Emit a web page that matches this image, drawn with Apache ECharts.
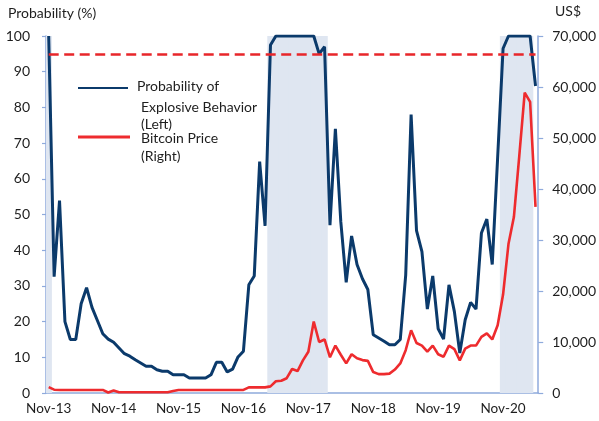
<!DOCTYPE html>
<html><head><meta charset="utf-8">
<script src="https://cdn.jsdelivr.net/npm/echarts@6/dist/echarts.min.js"></script>
<style>html,body{margin:0;padding:0;background:#fff}#c{width:599px;height:421px}</style>
</head><body><div id="c"></div>
<script>
// Categories: monthly, Nov-13 .. May-21
const months = [
 'Nov-13','Dec-13',
 'Jan-14','Feb-14','Mar-14','Apr-14','May-14','Jun-14','Jul-14','Aug-14','Sep-14','Oct-14','Nov-14','Dec-14',
 'Jan-15','Feb-15','Mar-15','Apr-15','May-15','Jun-15','Jul-15','Aug-15','Sep-15','Oct-15','Nov-15','Dec-15',
 'Jan-16','Feb-16','Mar-16','Apr-16','May-16','Jun-16','Jul-16','Aug-16','Sep-16','Oct-16','Nov-16','Dec-16',
 'Jan-17','Feb-17','Mar-17','Apr-17','May-17','Jun-17','Jul-17','Aug-17','Sep-17','Oct-17','Nov-17','Dec-17',
 'Jan-18','Feb-18','Mar-18','Apr-18','May-18','Jun-18','Jul-18','Aug-18','Sep-18','Oct-18','Nov-18','Dec-18',
 'Jan-19','Feb-19','Mar-19','Apr-19','May-19','Jun-19','Jul-19','Aug-19','Sep-19','Oct-19','Nov-19','Dec-19',
 'Jan-20','Feb-20','Mar-20','Apr-20','May-20','Jun-20','Jul-20','Aug-20','Sep-20','Oct-20','Nov-20','Dec-20',
 'Jan-21','Feb-21','Mar-21','Apr-21','May-21'
];

// Probability of explosive behavior (%, left axis)
const probability = [
 100, 32.6,
 53.9, 20, 15, 15, 25, 29.5, 24, 20.3, 16.6, 15.1, 14.2, 12.6,
 11, 10.3, 9.3, 8.4, 7.5, 7.5, 6.5, 6.1, 6.1, 5.1, 5.1, 5.1,
 4.2, 4.2, 4.2, 4.2, 5.1, 8.6, 8.6, 5.9, 6.7, 10.1, 11.7, 30.3,
 32.8, 64.8, 46.8, 97.5, 100, 100, 100, 100, 100, 100, 100, 100,
 95, 97, 47, 74, 48, 31, 44, 36, 32, 29, 16.3, 15.4,
 14.5, 13.5, 13.5, 15, 33, 78, 45.5, 39.6, 23.5, 32.8, 18, 15.1,
 30.3, 22.8, 11.2, 20.5, 25.4, 23.5, 44.8, 48.7, 36, 66, 96.5, 100,
 100, 100, 100, 100, 86
];

// Bitcoin price (US$, right axis)
const price = [
 1150, 650,
 600, 600, 600, 600, 600, 600, 600, 600, 600, 100, 500, 150,
 150, 150, 150, 150, 150, 150, 150, 150, 150, 400, 600, 600,
 600, 600, 600, 600, 600, 600, 600, 600, 600, 600, 600, 1100,
 1100, 1100, 1100, 1300, 2300, 2400, 2900, 4700, 4300, 6400, 8100, 14000,
 10000, 10500, 7000, 9300, 7500, 5800, 7600, 6800, 6450, 6300, 4100, 3700,
 3700, 3800, 4600, 5800, 8400, 12300, 9800, 9300, 8100, 9300, 7600, 7100,
 9300, 8600, 6400, 8700, 9300, 9300, 11000, 11700, 10500, 13300, 19300, 29200,
 34500, 46500, 58900, 57100, 36500
];

// Months shaded (explosive episodes)
const shadedMonths = [
 'Nov-13',
 'Apr-17','May-17','Jun-17','Jul-17','Aug-17','Sep-17','Oct-17','Nov-17','Dec-17','Jan-18','Feb-18',
 'Nov-20','Dec-20','Jan-21','Feb-21','Mar-21','Apr-21'
];
const threshold = 95;

const leftTicks = {min: 0, max: 100, interval: 10};
const rightTicks = {min: 0, max: 70000, interval: 10000};

const shade = months.map(m => shadedMonths.includes(m) ? leftTicks.max : '-');

const FONT = 'Lato';
const axisColor = '#8FAADC';
const textColor = '#1e1e1e';
const shadeColor = '#DFE6F1';

const chart = echarts.init(document.getElementById('c'), null, {renderer: 'canvas'});
chart.setOption({
  animation: false,
  textStyle: {fontFamily: FONT},
  grid: {left: 46, right: 59, top: 36, bottom: 28},
  xAxis: {
    type: 'category', data: months, boundaryGap: true,
    axisLine: {lineStyle: {color: axisColor, width: 1.5}},
    axisTick: {show: false},
    axisLabel: {interval: 11, color: textColor, fontSize: 13.5, fontFamily: FONT, margin: 9}
  },
  yAxis: [
    {type: 'value', min: leftTicks.min, max: leftTicks.max, interval: leftTicks.interval,
     axisLine: {show: true, lineStyle: {color: axisColor, width: 1.5}},
     axisTick: {show: true, length: 4, lineStyle: {color: axisColor, width: 1.2}},
     splitLine: {show: false},
     axisLabel: {color: textColor, fontSize: 14, fontFamily: FONT, margin: 16}},
    {type: 'value', position: 'right', min: rightTicks.min, max: rightTicks.max, interval: rightTicks.interval,
     axisLine: {show: true, lineStyle: {color: axisColor, width: 1.5}},
     axisTick: {show: true, length: 5, lineStyle: {color: axisColor, width: 1.2}},
     splitLine: {show: false},
     axisLabel: {color: textColor, fontSize: 14, fontFamily: FONT, margin: 14,
       formatter: v => v.toLocaleString('en-US')}}
  ],
  series: [
    {type: 'bar', data: shade, yAxisIndex: 0, barWidth: 6.4, barCategoryGap: '0%',
     itemStyle: {color: shadeColor}, silent: true, z: 1},
    {name: 'Bitcoin Price', type: 'line', data: price, yAxisIndex: 1, symbol: 'none',
     lineStyle: {color: '#EE2B2E', width: 2.6}, z: 3},
    {name: 'Probability', type: 'line', data: probability, yAxisIndex: 0, symbol: 'none',
     lineStyle: {color: '#0B3A6B', width: 3}, z: 4,
     markLine: {silent: true, symbol: 'none', label: {show: false},
       lineStyle: {color: '#E8262A', width: 2.5, type: [10, 5.5]},
       data: [[{xAxis: months[0], yAxis: threshold}, {xAxis: months[months.length - 1], yAxis: threshold}]]}}
  ],
  graphic: [
    {type: 'text', left: 8, top: 6, style: {text: 'Probability (%)', font: '14px ' + FONT, fill: textColor}},
    {type: 'text', left: 555, top: 4, style: {text: 'US$', font: '14px ' + FONT, fill: textColor}},
    {type: 'line', shape: {x1: 78, y1: 88, x2: 128, y2: 88}, style: {stroke: '#0B3A6B', lineWidth: 2}},
    {type: 'text', left: 137, top: 79, style: {text: 'Probability of', font: '14px ' + FONT, fill: textColor}},
    {type: 'text', left: 141, top: 100, style: {text: 'Explosive Behavior', font: '14px ' + FONT, fill: textColor}},
    {type: 'text', left: 141, top: 117, style: {text: '(Left)', font: '14px ' + FONT, fill: textColor}},
    {type: 'line', shape: {x1: 78, y1: 137, x2: 130, y2: 137}, style: {stroke: '#EE2B2E', lineWidth: 3}},
    {type: 'text', left: 141, top: 131, style: {text: 'Bitcoin Price', font: '14px ' + FONT, fill: textColor}},
    {type: 'text', left: 141, top: 149, style: {text: '(Right)', font: '14px ' + FONT, fill: textColor}}
  ]
});
</script></body></html>
